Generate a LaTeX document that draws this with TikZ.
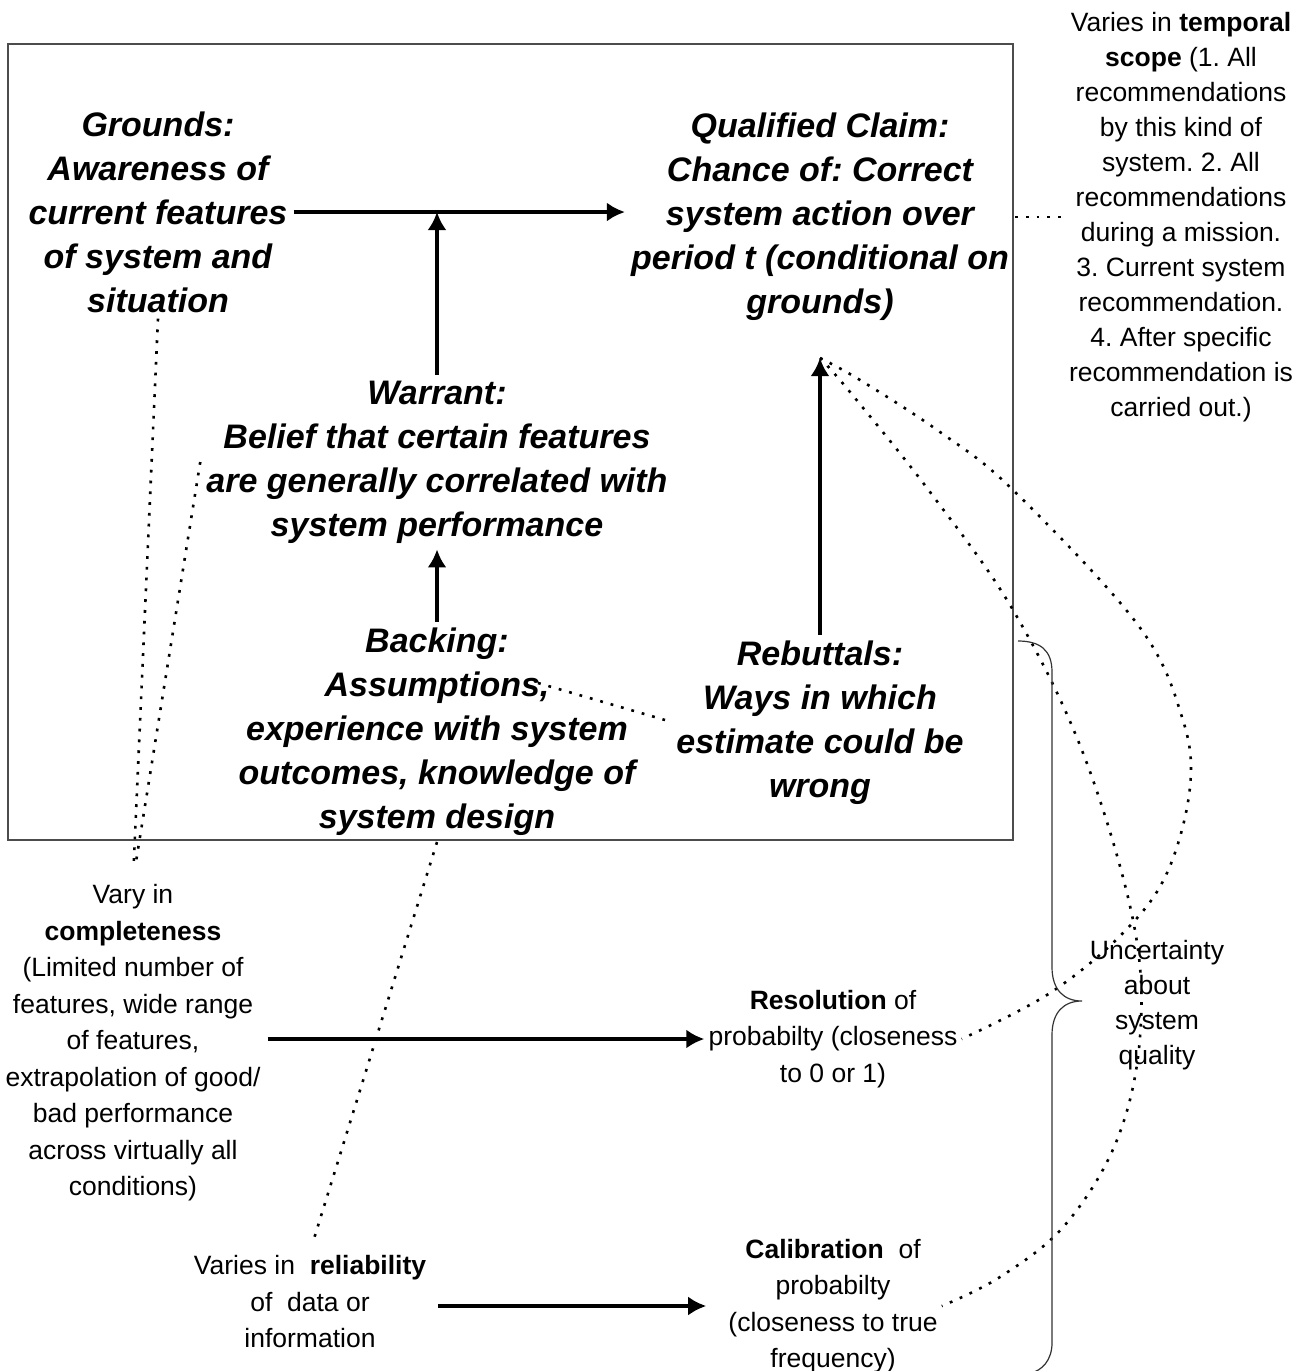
\documentclass[tikz,border=0pt]{standalone}
\usepackage{fontspec}
\setmainfont{Liberation Sans}
\frenchspacing
\usetikzlibrary{arrows.meta}
\begin{document}
\begin{tikzpicture}[x=1pt,y=-1pt,
  claimtext/.style={font=\fontsize{34}{44}\selectfont\bfseries\itshape, align=center, inner sep=6pt},
  note/.style={font=\fontsize{26.5}{36.5}\selectfont, align=center, inner sep=4pt},
  arr/.style={line width=3.5pt, -{Latex[length=18pt,width=19pt]}},
  dots/.style={line width=2.6pt, dash pattern=on 2.8pt off 8pt},
  frame/.style={line width=1.5pt, draw=black!70},
  brace/.style={line width=1.2pt, draw=black!80}]
\useasboundingbox (0,0) rectangle (1303,1371);

% enclosing frame of the argument
\draw[frame] (8,44) rectangle (1013,840);

% Toulmin elements
\node[claimtext] (grounds) at (158,212) {Grounds:\\Awareness of\\current features\\of system and\\situation};
\node[claimtext] (claim) at (820,217) {Qualified Claim:\\Chance of: Correct\\system action over\\period t (conditional on\\grounds)};
\node[claimtext] (warrant) at (437,462) {Warrant:\\Belief that certain features\\are generally correlated with\\system performance};
\node[claimtext] (backing) at (437,732) {Backing:\\Assumptions,\\experience with system\\outcomes, knowledge of\\system design};
\node[claimtext] (rebut) at (820,723) {Rebuttals:\\Ways in which\\estimate could be\\wrong};

% annotations
\node[note, font=\fontsize{26.5}{35}\selectfont] (scope) at (1181,217) {Varies in \textbf{temporal}\\\textbf{scope} (1. All\\recommendations\\by this kind of\\system. 2. All\\recommendations\\during a mission.\\3. Current system\\recommendation.\\4. After specific\\recommendation is\\carried out.)};
\node[note] (compl) at (133,1043) {Vary in\\\textbf{completeness}\\(Limited number of\\features, wide range\\of features,\\extrapolation of good/\\bad performance\\across virtually all\\conditions)};
\node[note] (res) at (833,1039) {\textbf{Resolution} of\\probabilty (closeness\\to 0 or 1)};
\node[note] (reliab) at (310,1302) {Varies in\ \ \textbf{reliability}\\of\ \ data or\\information};
\node[note] (calib) at (833,1306) {\textbf{Calibration}\ \ of\\probabilty\\(closeness to true\\frequency)};
\node[note, font=\fontsize{26.5}{35}\selectfont] (uncert) at (1157,1005) {Uncertainty\\about\\system\\quality};

% free ends
\coordinate (claimfoot) at (820,358);
\coordinate (asmend) at (538,683);
\coordinate (waysstart) at (665,720);

% solid arrows
\draw[arr] (grounds.east) -- (claim.west |- grounds.east);
\draw[arr] (warrant.north) -- (warrant.north |- grounds.east);
\draw[arr] (backing.north) -- (warrant.south);
\draw[arr] (rebut.north) -- (claimfoot);
\draw[arr, shorten <=3pt] (res.west -| compl.east) -- (res.west);
\draw[arr, shorten >=18pt, shorten <=8pt] (reliab.east |- calib.west) -- (calib.west);

% dotted links
\draw[dots] (claim.east) -- (scope.west);
\draw[dots, shorten >=16pt] (grounds.south) -- (compl.north);
\draw[dots, shorten >=16pt] (warrant.west) -- (compl.north);
\draw[dots, shorten >=8pt] (backing.south) -- (reliab.north);
\draw[dots] (asmend) -- (waysstart);
\draw[dots] plot[smooth, tension=0.6] coordinates {(claimfoot) (860,380) (940,432) (1013,490) (1138,625) (1182,717) (1190,787) (1167,873) (1123,933) (1050,993) (res.east)};
\draw[dots] plot[smooth, tension=0.6] coordinates {(claimfoot) (850,392) (930,492) (1013,610) (1083,753) (1133,920) (1140,1037) (1117,1140) (1065,1225) (1000,1277) (calib.east)};

% brace grouping resolution and calibration
\draw[brace] (1018,641) .. controls (1040,641) and (1052,650) .. (1052,672)
  -- (1052,967) .. controls (1052,990) and (1064,1001) .. (1082,1001)
  .. controls (1064,1001) and (1052,1012) .. (1052,1035)
  -- (1052,1343) .. controls (1052,1360) and (1042,1371) .. (1030,1373);
\end{tikzpicture}
\end{document}
